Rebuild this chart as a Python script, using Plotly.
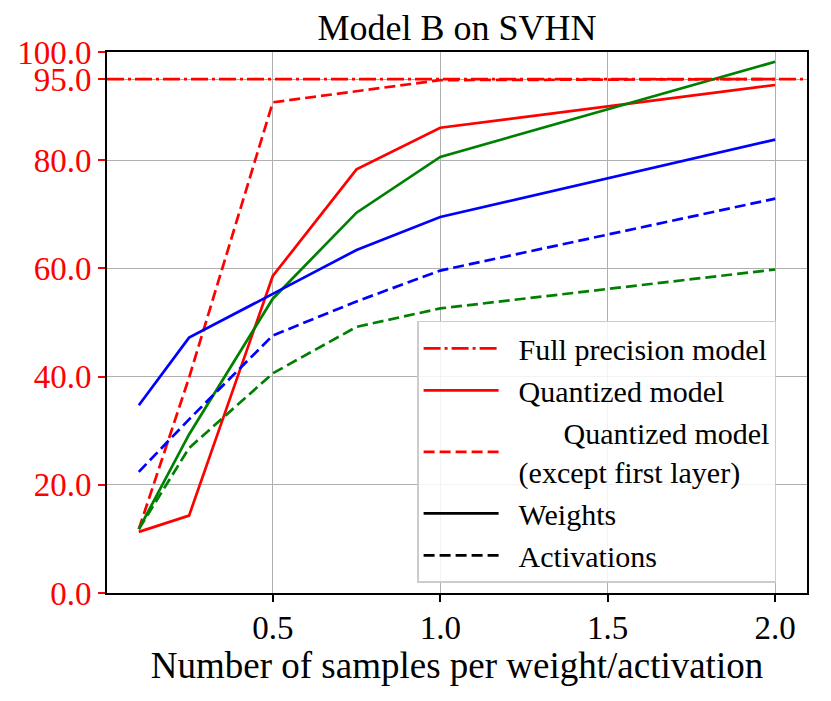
import plotly.graph_objects as go

# samples per weight/activation
samples = [0.1, 0.25, 0.5, 0.75, 1.0, 2.0]

# accuracy (%)
full_precision = 95.0
quant_weights = [11.3, 14.3, 58.6, 78.3, 86.0, 93.9]
quant_acts = [11.8, 39.8, 90.7, 92.8, 94.8, 95.0]
green_weights = [11.8, 29.3, 54.4, 70.3, 80.6, 98.2]
green_acts = [11.8, 26.8, 40.6, 49.2, 52.6, 59.8]
blue_weights = [34.7, 47.2, 55.3, 63.4, 69.5, 83.8]
blue_acts = [22.4, 32.1, 47.6, 53.9, 59.6, 72.9]

y_ticks = [0, 20, 40, 60, 80, 95, 100]
x_ticks = [0.5, 1.0, 1.5, 2.0]

FONT = "Liberation Serif"
LW = 2.7
DASH = "11px,5px"
DASHDOT = "17px,4px,3px,4px"
SP = "&#160;&#160;"  # small gap between swatch and text

fig = go.Figure()

series = [
    (quant_weights, "red", "solid"),
    (quant_acts, "red", DASH),
    (green_weights, "green", "solid"),
    (green_acts, "green", DASH),
    (blue_weights, "blue", "solid"),
    (blue_acts, "blue", DASH),
]
for vals, col, dash in series:
    fig.add_trace(go.Scatter(x=samples, y=vals, mode="lines",
                             line=dict(color=col, width=LW, dash=dash),
                             showlegend=False, hoverinfo="skip"))

fig.add_hline(y=full_precision, line=dict(color="red", width=LW, dash=DASHDOT))

# legend-only entries
legend_items = [
    (SP + "Full precision model", "red", DASHDOT),
    (SP + "Quantized model", "red", "solid"),
    (SP + "&#160;&#160;&#160;&#160;&#160;&#160;Quantized model<br>" + SP + "(except first layer)", "red", DASH),
    (SP + "Weights", "black", "solid"),
    (SP + "Activations", "black", DASH),
]
for name, col, dash in legend_items:
    fig.add_trace(go.Scatter(x=[None], y=[None], mode="lines", name=name,
                             line=dict(color=col, width=LW, dash=dash)))

# page body adds 8px, so margins are shifted by that much
fig.update_layout(
    width=831, height=701,
    margin=dict(l=99, r=32, t=44, b=116),
    plot_bgcolor="white", paper_bgcolor="white",
    font=dict(family=FONT, size=30, color="black"),
    title=dict(text="Model B on SVHN", x=0.5, xref="paper", xanchor="center",
               y=0.972, yanchor="middle", font=dict(size=36)),
    legend=dict(x=0.443, y=0.503, xanchor="left", yanchor="top",
                bgcolor="rgba(255,255,255,0.85)", bordercolor="#cccccc",
                borderwidth=1.5, font=dict(size=30), tracegroupgap=0,
                itemwidth=75),
)

fig.update_xaxes(range=[0.005, 2.095], tickvals=x_ticks, ticktext=[f"{v:.1f}" for v in x_ticks],
                 showgrid=True, gridcolor="#b0b0b0", gridwidth=1.3,
                 showline=True, linecolor="black", linewidth=1.8, mirror=True,
                 ticks="outside", ticklen=7, tickwidth=1.8, tickcolor="black",
                 tickfont=dict(size=33), zeroline=False, automargin=False,
                 ticklabelstandoff=-3,
                 title=dict(text="Number of samples per weight/activation", font=dict(size=37), standoff=2))
fig.update_yaxes(range=[0, 100], tickvals=y_ticks, ticktext=[f"{v:.1f}" for v in y_ticks],
                 showgrid=True, gridcolor="#b0b0b0", gridwidth=1.3,
                 showline=True, linecolor="black", linewidth=1.8, mirror=True,
                 ticks="outside", ticklen=7, tickwidth=1.8, tickcolor="red",
                 tickfont=dict(size=33, color="red"), zeroline=False, automargin=False)

fig.write_html("out.html")
